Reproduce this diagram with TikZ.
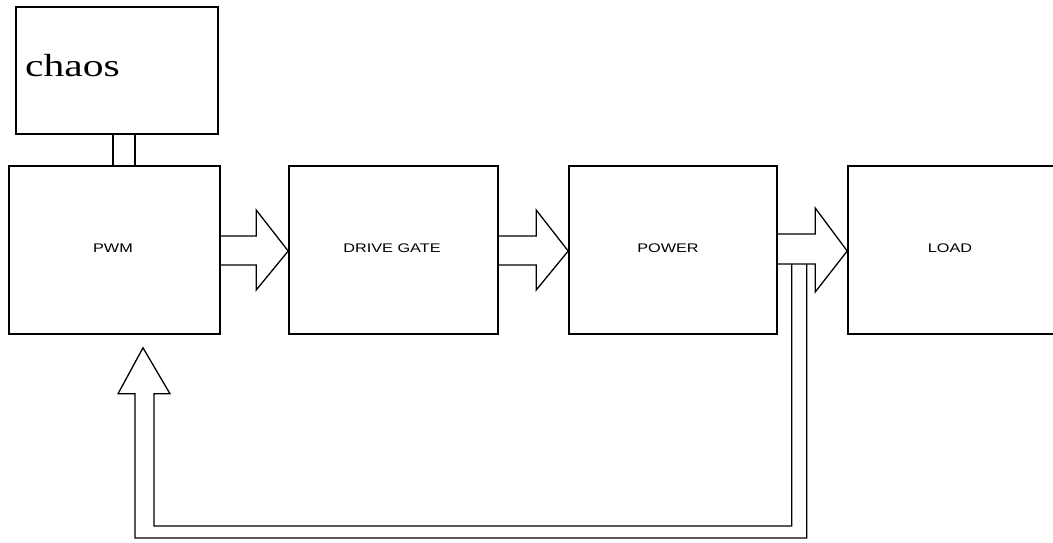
\documentclass[tikz,border=0pt]{standalone}
\usepackage{fontspec}
\newfontfamily\lblfont{Liberation Sans}
\newfontfamily\chaosfont{Liberation Serif}
\usetikzlibrary{calc}
\newcommand{\boxlbl}[1]{\scalebox{1.3}[1]{\lblfont\fontsize{12.5}{12.5}\selectfont #1}}
\tikzset{
  box/.style={draw=black, line width=1.6pt, minimum height=168pt, inner sep=0pt},
  fat/.style={draw=black, line width=1.3pt, line join=miter},
  lbl/.style={text=black, inner sep=0pt},
  tie/.style={draw=black, line width=1.5pt}
}
\begin{document}
\begin{tikzpicture}[x=1pt,y=1pt]
\useasboundingbox[fill=white] (0,0) rectangle (1053,-542);
% boxes
\node[box, minimum width=202pt, minimum height=127pt] (chaos) at (117,-70.5) {};
\node[box, minimum width=211pt] (pwm) at (114.5,-250) {};
\node[box, minimum width=209pt] (drive) at (393.5,-250) {};
\node[box, minimum width=208pt] (power) at (673,-250) {};
\node[box, minimum width=222pt] (load) at (959,-250) {};
% labels
\node[anchor=base west, inner sep=0pt] (chaoslbl) at (25,-76) {\scalebox{1.3}[1]{\chaosfont\fontsize{32}{32}\selectfont chaos}};
\node[lbl] (pwmlbl) at (113,-248) {\boxlbl{PWM}};
\node[lbl] (drivelbl) at (392,-248) {\boxlbl{DRIVE GATE}};
\node[lbl] (powerlbl) at (668,-248) {\boxlbl{POWER}};
\node[lbl] (loadlbl) at (950,-248) {\boxlbl{LOAD}};
% chaos to pwm
\draw[tie] ([xshift=-4pt]chaos.south) -- ([xshift=-4pt]chaos.south |- pwm.north);
\draw[tie] ([xshift=18pt]chaos.south) -- ([xshift=18pt]chaos.south |- pwm.north);
% fat arrows
\draw[fat] ($(pwm.east)+(0,14)$) -- ($(drive.west)+(-32,14)$) -- ($(drive.west)+(-32,40)$) -- ($(drive.west)+(0,-1)$) -- ($(drive.west)+(-32,-40)$) -- ($(drive.west)+(-32,-15)$) -- ($(pwm.east)+(0,-15)$);
\draw[fat] ($(drive.east)+(0,14)$) -- ($(power.west)+(-32,14)$) -- ($(power.west)+(-32,40)$) -- ($(power.west)+(0,-1)$) -- ($(power.west)+(-32,-40)$) -- ($(power.west)+(-32,-15)$) -- ($(drive.east)+(0,-15)$);
\draw[fat] ($(power.east)+(0,16)$) -- ($(load.west)+(-32,16)$) -- ($(load.west)+(-32,42)$) -- ($(load.west)+(0,-1)$) -- ($(load.west)+(-32,-42)$) -- ($(load.west)+(-32,-14)$) -- ($(power.east)+(0,-14)$);
% feedback
\coordinate (fbin) at ($(power.east)+(14,-14)$);
\coordinate (fbout) at ($(power.east)+(29,-14)$);
\coordinate (fbtip) at ($(pwm.south)+(28.5,-13)$);
\draw[fat] (fbin) -- ++(0,-262) -| ($(fbtip)+(11,-46)$) -- ($(fbtip)+(27,-46)$) -- (fbtip) -- ($(fbtip)+(-25,-46)$) -- ($(fbtip)+(-8,-46)$) |- ($(fbout)+(0,-274)$) -- (fbout);
\end{tikzpicture}
\end{document}
